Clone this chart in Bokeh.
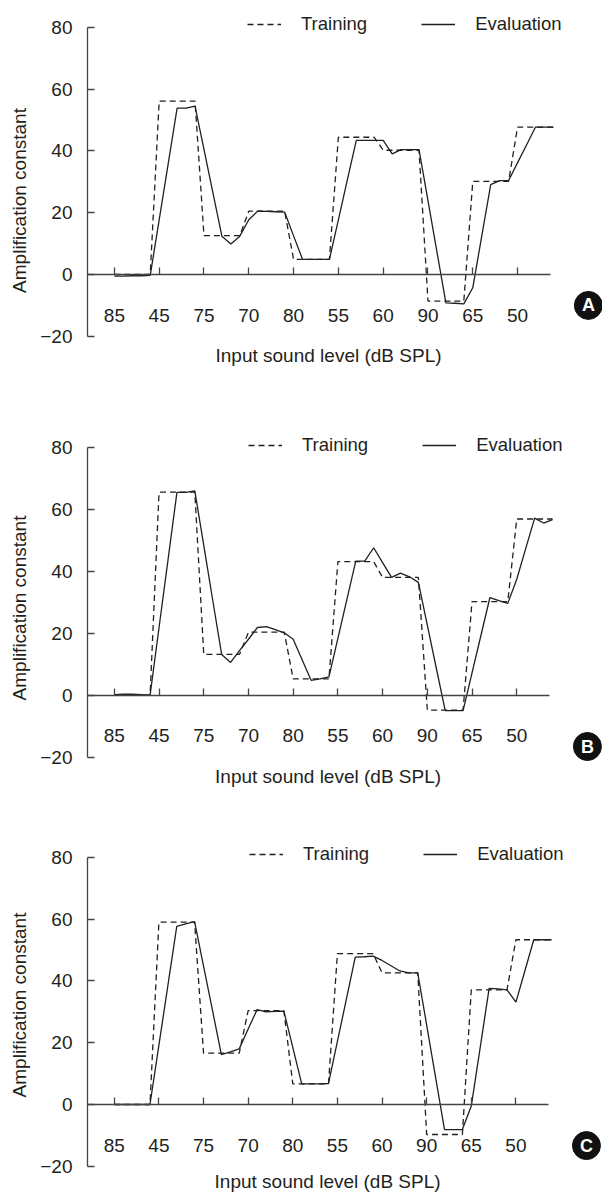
import numpy as np
from bokeh.plotting import figure
from bokeh.models import FixedTicker, Legend, LegendItem, Label, Range1d
from bokeh.layouts import column
from bokeh.embed import file_html
from bokeh.resources import INLINE
from bokeh.core.properties import value

# ---------------- data ----------------
levels = ["85", "45", "75", "70", "80", "55", "60", "90", "65", "50"]
samples_per_level = 5

a_training = [0, 56.1, 12.6, 20.5, 4.9, 44.4, 40.2, -8.6, 30.1, 47.7]
a_evaluation = [
    -0.5, -0.5, -0.4, -0.4, -0.3,
    17.7, 35.7, 53.8, 53.8, 54.5,
    40.5, 26.4, 12.4, 9.9, 12.4,
    17.7, 20.5, 20.4, 20.3, 20.2,
    12.5, 4.9, 4.9, 4.9, 4.9,
    17.7, 30.6, 43.4, 43.4, 43.4,
    43.4, 39.0, 40.4, 40.4, 40.4,
    23.9, 7.3, -9.2, -9.3, -9.5,
    -4.3, 12.4, 29.1, 30.4, 30.4,
    36.2, 41.9, 47.7, 47.7, 47.7,
]

b_training = [0, 65.7, 13.2, 20.4, 5.3, 43.2, 38.1, -4.8, 30.3, 57.0]
b_evaluation = [
    0.2, 0.3, 0.3, 0.2, 0.0,
    21.9, 43.7, 65.6, 65.6, 66.1,
    48.5, 30.8, 13.2, 10.6, 14.4,
    18.1, 21.9, 22.2, 21.2, 20.2,
    18.1, 11.5, 4.8, 5.3, 5.9,
    18.4, 30.9, 43.4, 43.4, 47.7,
    42.9, 38.1, 39.5, 38.3, 36.5,
    22.7, 8.8, -5.0, -5.0, -5.0,
    7.2, 19.4, 31.6, 30.6, 29.7,
    37.5, 47.4, 57.3, 55.7, 56.8,
]

c_training = [0, 59.0, 16.6, 30.4, 6.7, 48.8, 42.6, -9.7, 37.1, 53.3]
c_evaluation = [
    0.0, 0.0, 0.0, 0.0, 0.0,
    19.2, 38.4, 57.6, 58.4, 59.2,
    44.8, 30.5, 16.1, 17.0, 18.0,
    24.4, 30.7, 30.0, 30.1, 30.2,
    18.5, 6.7, 6.7, 6.7, 6.8,
    20.4, 34.0, 47.7, 47.8, 48.0,
    46.6, 44.9, 43.2, 42.6, 42.6,
    25.7, 8.8, -8.1, -8.1, -8.1,
    -0.5, 18.5, 37.6, 37.4, 37.1,
    33.1, 43.2, 53.3, 53.3, 53.3,
]

y_ticks = [-20, 0, 20, 40, 60, 80]

# ---------------- style / layout ----------------
FONT = "Liberation Sans"
INK = "#231f20"
AXIS = "#444444"
WIDTH = 602
PX_PER_LEVEL = 44.8
PX_PER_UNIT = 3.091
X0 = -0.6
AXIS_END = 9.74

panels = [
    # letter, training, evaluation, fig top, fig bottom, page y of y=0,
    # frame left, badge y, x-label y (data units)
    ("A", a_training, a_evaluation, 0, 400, 274.0, 87, -10.0, -26.3),
    ("B", b_training, b_evaluation, 400, 815, 694.7, 86, -16.6, -26.3),
    ("C", c_training, c_evaluation, 815, 1194, 1104.0, 85, -13.3, -25.0),
]


def make_panel(letter, training, evaluation, top, bottom, y0_page, left, badge_y, xlab_y):
    n = len(levels) * samples_per_level
    xs = np.arange(n) / samples_per_level
    train_samples = np.repeat(np.array(training, dtype=float), samples_per_level)

    height = bottom - top
    y_end = (y0_page - top) / PX_PER_UNIT
    y_start = (y0_page - bottom) / PX_PER_UNIT
    x_end = X0 + (WIDTH - left) / PX_PER_LEVEL

    p = figure(width=WIDTH, height=height,
               x_range=Range1d(X0, x_end), y_range=Range1d(y_start, y_end),
               output_backend="svg", toolbar_location=None,
               min_border_left=left, min_border_right=0,
               min_border_top=0, min_border_bottom=0)
    p.outline_line_color = None
    p.grid.visible = False
    p.background_fill_color = "white"
    p.border_fill_color = "white"

    r_train = p.line(xs, train_samples, line_color=INK, line_width=1.3, line_dash="6 4")
    r_eval = p.line(xs, evaluation, line_color=INK, line_width=1.3)

    # x axis sitting on y = 0
    xa = p.xaxis[0]
    xa.fixed_location = 0
    xa.ticker = FixedTicker(ticks=list(range(len(levels))))
    xa.major_label_overrides = {i: lab for i, lab in enumerate(levels)}
    xa.bounds = (X0, AXIS_END)
    xa.major_tick_in = 7
    xa.major_tick_out = 0
    xa.minor_tick_in = 0
    xa.minor_tick_out = 0
    xa.major_label_standoff = 34
    xa.axis_line_color = AXIS
    xa.axis_line_width = 1.3
    xa.major_tick_line_color = AXIS
    xa.major_tick_line_width = 1.3
    xa.major_label_text_font = FONT
    xa.major_label_text_font_size = "19px"
    xa.major_label_text_color = INK

    ya = p.yaxis[0]
    ya.ticker = FixedTicker(ticks=y_ticks)
    ya.bounds = (y_ticks[0], y_ticks[-1])
    ya.major_label_overrides = {-20: "\u221220"}
    ya.major_tick_in = 7
    ya.major_tick_out = 0
    ya.minor_tick_in = 0
    ya.minor_tick_out = 0
    ya.major_label_standoff = 15
    ya.axis_line_color = AXIS
    ya.axis_line_width = 1.3
    ya.major_tick_line_color = AXIS
    ya.major_tick_line_width = 1.3
    ya.major_label_text_font = FONT
    ya.major_label_text_font_size = "19px"
    ya.major_label_text_color = INK
    ya.axis_label = "Amplification constant"
    ya.axis_label_standoff = 7
    ya.axis_label_text_font = FONT
    ya.axis_label_text_font_size = "19px"
    ya.axis_label_text_font_style = "normal"
    ya.axis_label_text_color = INK

    # legend: row centred ~1.5 px above the y = 80 level
    legend_center_page = y0_page - 80 * PX_PER_UNIT - 1.5
    legend = Legend(
        items=[LegendItem(label="Training", renderers=[r_train]),
               LegendItem(label="Evaluation", renderers=[r_eval])],
        orientation="horizontal",
        location=(247 - left, bottom - (legend_center_page + 10)),
        glyph_width=34, glyph_height=20, label_height=20,
        label_standoff=20, spacing=54, padding=0, margin=0,
        border_line_color=None, background_fill_alpha=0,
        label_text_font=FONT, label_text_font_size="18.5px",
        label_text_color=INK)
    p.add_layout(legend)

    p.add_layout(Label(x=4.78, y=xlab_y,
                       text="Input sound level (dB SPL)", text_align="center",
                       text_baseline="middle", text_font=FONT,
                       text_font_size="19px", text_color=INK))

    # panel badge
    bx = (588 - 114) / PX_PER_LEVEL
    p.scatter([bx], [badge_y], size=28, fill_color="#111111", line_color="#111111")
    p.text([bx], [badge_y], text=[letter], text_color="white",
           text_font=value(FONT), text_font_style="bold", text_font_size="18px",
           text_align="center", text_baseline="middle")
    return p


figs = [make_panel(*args) for args in panels]
layout = column(*figs, spacing=0)
open("out.html", "w").write(file_html(layout, INLINE))
